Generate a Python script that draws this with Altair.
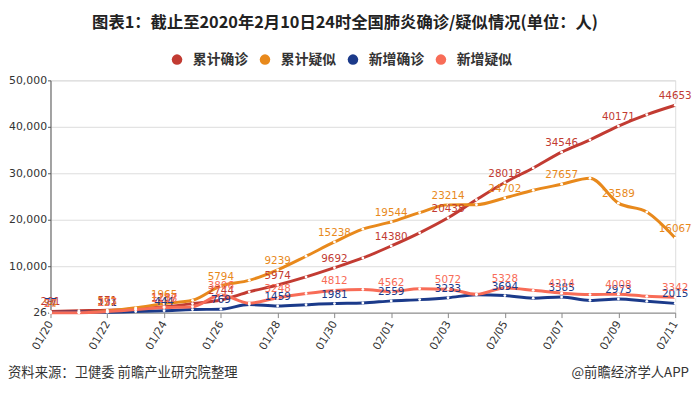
import altair as alt
import pandas as pd

dates = ["01/20", "01/21", "01/22", "01/23", "01/24", "01/25", "01/26", "01/27", "01/28",
         "01/29", "01/30", "01/31", "02/01", "02/02", "02/03", "02/04", "02/05", "02/06",
         "02/07", "02/08", "02/09", "02/10", "02/11"]
series_names = ["累计确诊", "累计疑似", "新增确诊", "新增疑似"]
series_colors = ["#c23b32", "#e8891c", "#1b3a8a", "#f86c57"]

cum_confirmed = [291, 440, 571, 830, 1287, 1975, 2744, 4515, 5974, 7711, 9692, 11791, 14380,
                 17205, 20438, 24324, 28018, 31161, 34546, 37198, 40171, 42638, 44653]
cum_suspected = [54, 37, 393, 1072, 1965, 2684, 5794, 6973, 9239, 12167, 15238, 17988, 19544,
                 21558, 23214, 23260, 24702, 26359, 27657, 28942, 23589, 21675, 16067]
new_confirmed = [77, 149, 131, 259, 444, 688, 769, 1771, 1459, 1737, 1981, 2102, 2559,
                 2829, 3233, 3887, 3694, 3143, 3385, 2652, 2973, 2467, 2015]
new_suspected = [27, 26, 257, 680, 1118, 1309, 3806, 2077, 3248, 4148, 4812, 5019, 4562,
                 5173, 5072, 3971, 5328, 4833, 4214, 3916, 4008, 3536, 3342]

y_ticks = [26, 10000, 20000, 30000, 40000, 50000]
x_label_dates = dates[::2]

title_text = "图表1：截止至2020年2月10日24时全国肺炎确诊/疑似情况(单位：人)"
source_text = "资料来源：卫健委 前瞻产业研究院整理"
brand_text = "@前瞻经济学人APP"

rows = []
for name, vals in zip(series_names, [cum_confirmed, cum_suspected, new_confirmed, new_suspected]):
    for i, (d, v) in enumerate(zip(dates, vals)):
        rows.append({"date": d, "series": name, "legend_series": name, "value": v, "idx": i})
df = pd.DataFrame(rows)

x_enc = alt.X("date:N", sort=dates, scale=alt.Scale(type="point", padding=0),
              axis=alt.Axis(values=x_label_dates, labelAngle=-60, title=None,
                            labelFont="DejaVu Sans", labelFontSize=11, labelColor="#333",
                            domainColor="#888", tickColor="#888", tickSize=5,
                            labelPadding=4, grid=False))
y_enc = alt.Y("value:Q", scale=alt.Scale(domain=[26, 50000], nice=False, zero=False),
              axis=alt.Axis(values=y_ticks, format=",d", title=None,
                            labelFont="DejaVu Sans", labelFontSize=11, labelColor="#333",
                            domainColor="#555", tickColor="#555", tickSize=3,
                            gridColor="#dddddd", gridWidth=1, labelPadding=1))
color_scale = alt.Scale(domain=series_names, range=series_colors)

base = alt.Chart(df)

lines = base.mark_line(interpolate="monotone", strokeWidth=3).encode(
    x=x_enc, y=y_enc,
    color=alt.Color("series:N", scale=color_scale, legend=None),
    order=alt.Order("idx:Q"),
)

dots = base.mark_circle(size=8, color="white", opacity=1).encode(
    x=x_enc, y=y_enc, detail="series:N"
)

labels = base.transform_filter("datum.idx % 2 == 0").mark_text(
    baseline="alphabetic", dy=-6, font="DejaVu Sans", fontSize=10.5
).encode(
    x=x_enc, y=y_enc, text="value:Q",
    color=alt.Color("series:N", scale=color_scale, legend=None),
)

legend_layer = base.mark_circle(opacity=0).encode(
    x=x_enc, y=y_enc,
    fill=alt.Fill("legend_series:N", sort=series_names,
                  scale=alt.Scale(range=series_colors),
                  legend=alt.Legend(orient="none", legendX=121, legendY=-28,
                                    direction="horizontal", title=None,
                                    symbolType="circle", symbolSize=113, symbolOpacity=1,
                                    symbolStrokeWidth=0, labelFont="Noto Sans CJK SC",
                                    labelFontSize=14, labelFontWeight="bold",
                                    labelColor="#333", labelOffset=9, columnPadding=10)),
)

title_layer = alt.Chart(pd.DataFrame({"t": [title_text]})).mark_text(
    align="center", baseline="middle", font="Noto Sans CJK SC", fontSize=16.5,
    fontWeight="bold", color="#222"
).encode(x=alt.value(298), y=alt.value(-58), text="t:N")

foot_left = alt.Chart(pd.DataFrame({"t": [source_text]})).mark_text(
    align="left", baseline="middle", font="Noto Sans CJK SC", fontSize=13.5, color="#333"
).encode(x=alt.value(-43), y=alt.value(296), text="t:N")

foot_right = alt.Chart(pd.DataFrame({"t": [brand_text]})).mark_text(
    align="right", baseline="middle", font="Noto Sans CJK SC", fontSize=13.5, color="#333"
).encode(x=alt.value(646), y=alt.value(296), text="t:N")

chart = alt.layer(lines, dots, labels, legend_layer, title_layer, foot_left, foot_right).properties(
    width=632, height=235,
    autosize=alt.AutoSizeParams(type="none"),
    padding={"left": 43, "top": 71, "right": 17, "bottom": 73},
).configure_view(strokeWidth=0).configure(background="white")

chart.save("out.html", embed_options={"renderer": "svg", "actions": False})
